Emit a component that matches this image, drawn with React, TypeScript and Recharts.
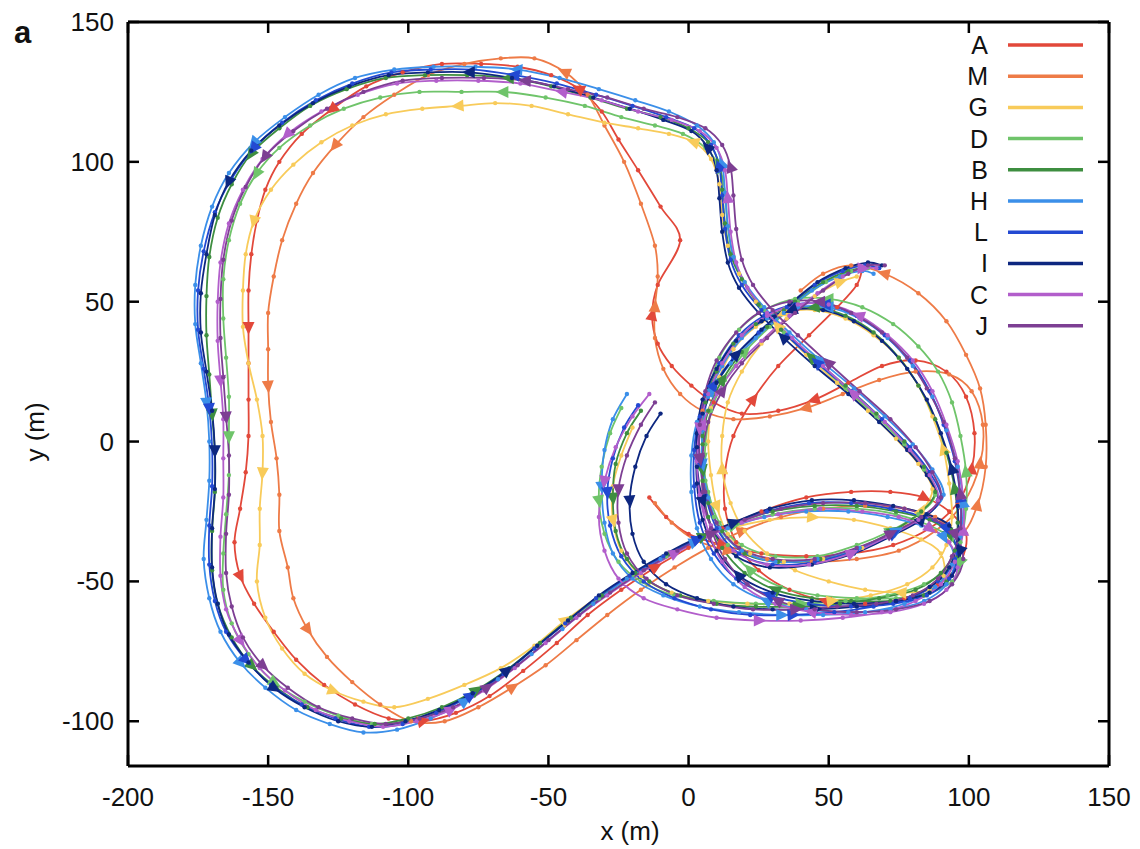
import React from "react";
import { LineChart, Line, XAxis, YAxis } from "recharts";

// flight tracks, [x, y] in metres, in flight order
const trackA = [
  [-14, -20], [-8, -27], [0, -33], [12, -37], [26, -40], [42, -41], [58, -40], [73, -37], [86, -31], [96, -22],
  [101, -10], [102, 3], [99, 16], [92, 25], [81, 29], [69, 27], [57, 21], [45, 15], [32, 11], [19, 10], [9, 14],
  [1, 20], [-6, 27], [-11, 35], [-13, 45], [-11, 56], [-3, 72], [-10, 84], [-18, 97], [-25, 108], [-31, 118],
  [-39, 126], [-49, 131], [-61, 134], [-74, 135], [-88, 135], [-102, 132], [-115, 127], [-127, 119], [-138, 110],
  [-146, 100], [-151, 90], [-154, 79], [-156, 67], [-157, 54], [-157, 41], [-157, 28], [-157, 15], [-157, 2],
  [-158, -11], [-160, -24], [-162, -36], [-160, -48], [-155, -58], [-148, -68], [-140, -78], [-130, -87],
  [-119, -94], [-107, -99], [-95, -100], [-83, -97], [-71, -91], [-59, -82], [-47, -72], [-36, -62], [-24, -53],
  [-12, -45], [0, -38], [12, -31], [26, -25], [42, -20], [58, -18], [72, -18], [84, -20], [93, -25], [99, -33],
  [97, -43], [89, -51], [77, -56], [63, -58], [49, -57], [36, -53], [25, -46], [17, -36], [13, -24], [13, -11],
  [16, 2], [23, 15], [32, 27], [43, 38], [53, 48], [60, 56], [62, 62],
];

const trackM = [
  [-12, -22], [-6, -29], [2, -35], [14, -39], [28, -42], [44, -43], [60, -42], [75, -39], [88, -32], [98, -22],
  [104, -8], [105, 6], [101, 18], [93, 24], [81, 25], [68, 22], [55, 17], [42, 12], [29, 9], [16, 8], [5, 11],
  [-3, 17], [-9, 26], [-12, 37], [-12, 48], [-11, 59], [-12, 70], [-17, 85], [-23, 100], [-30, 113], [-36, 124],
  [-44, 132], [-55, 137], [-67, 137], [-80, 135], [-93, 131], [-105, 124], [-116, 116], [-126, 106], [-134, 96],
  [-140, 85], [-145, 72], [-148, 59], [-150, 46], [-150, 33], [-150, 20], [-149, 7], [-147, -6], [-146, -19],
  [-146, -32], [-143, -45], [-141, -56], [-136, -67], [-129, -77], [-120, -86], [-110, -94], [-99, -100],
  [-87, -100], [-75, -95], [-63, -88], [-51, -80], [-40, -71], [-29, -62], [-17, -53], [-5, -45], [7, -38],
  [19, -32], [33, -27], [48, -24], [63, -23], [77, -24], [88, -27], [97, -33], [103, -23], [106, -9], [106, 6],
  [104, 19], [99, 31], [92, 43], [82, 53], [70, 60], [58, 63], [48, 60], [40, 54],
];

const trackG = [
  [-20, 5], [-24, -5], [-27, -16], [-27, -28], [-24, -39], [-17, -48], [-6, -54], [7, -57], [21, -58], [36, -58],
  [51, -57], [65, -55], [78, -51], [87, -45], [92, -37], [94, -27], [93, -15], [91, -3], [87, 9], [82, 20],
  [75, 30], [66, 38], [56, 44], [45, 47], [34, 46], [24, 41], [16, 33], [11, 23], [8, 12], [7, 0], [8, -12],
  [10, -23], [14, -33], [22, -40], [34, -43], [48, -42], [62, -38], [74, -32], [83, -25], [87, -17], [82, -8],
  [74, 1], [64, 11], [53, 21], [42, 31], [32, 41], [24, 50], [18, 60], [14, 70], [12, 81], [11, 92], [8, 101],
  [2, 107], [-7, 110], [-18, 112], [-30, 114], [-43, 117], [-56, 120], [-69, 121], [-82, 120], [-95, 119],
  [-108, 117], [-120, 113], [-131, 107], [-141, 99], [-149, 90], [-155, 79], [-158, 67], [-159, 54], [-159, 41],
  [-157, 28], [-154, 15], [-152, 2], [-152, -11], [-153, -24], [-153, -37], [-154, -50], [-151, -63], [-145, -74],
  [-137, -83], [-127, -89], [-116, -93], [-105, -95], [-93, -92], [-80, -87], [-67, -81], [-55, -73], [-44, -64],
  [-33, -56], [-21, -48], [-9, -41], [3, -35], [15, -31], [29, -28], [44, -27], [59, -28], [72, -31], [83, -35],
  [90, -40], [91, -48], [86, -53], [76, -54], [63, -53], [50, -50], [38, -46], [28, -40], [20, -32], [15, -22],
  [12, -10], [12, 2], [14, 14], [19, 25], [26, 35], [35, 44], [45, 52], [54, 57], [60, 59],
];

const trackD = [
  [-24, 12], [-28, 3], [-31, -9], [-32, -21], [-30, -33], [-25, -43], [-17, -50], [-5, -55], [9, -57], [24, -58],
  [40, -58], [56, -57], [71, -55], [84, -51], [93, -45], [97, -36], [99, -24], [99, -11], [97, 2], [94, 14],
  [89, 25], [82, 34], [73, 42], [62, 48], [50, 51], [38, 51], [27, 47], [18, 40], [11, 30], [7, 18], [5, 6],
  [5, -6], [7, -18], [11, -29], [19, -37], [31, -41], [46, -41], [60, -37], [72, -32], [82, -26], [88, -19],
  [84, -10], [77, -1], [67, 9], [56, 19], [45, 29], [34, 39], [26, 48], [20, 57], [16, 66], [14, 77], [13, 89],
  [11, 98], [6, 105], [-2, 110], [-12, 113], [-24, 116], [-37, 120], [-51, 123], [-66, 125], [-81, 125],
  [-96, 125], [-110, 123], [-123, 119], [-135, 113], [-146, 105], [-154, 96], [-160, 85], [-164, 72], [-166, 58],
  [-166, 44], [-165, 30], [-164, 16], [-164, 2], [-164, -12], [-165, -26], [-166, -40], [-166, -53], [-163, -65],
  [-157, -76], [-148, -86], [-137, -93], [-125, -98], [-113, -101], [-101, -100], [-89, -96], [-77, -90],
  [-65, -82], [-54, -73], [-43, -64], [-32, -56], [-20, -48], [-8, -41], [4, -35], [16, -30], [30, -26], [45, -24],
  [60, -24], [74, -26], [86, -30], [94, -35], [97, -43], [94, -50], [86, -54], [74, -56], [60, -56], [46, -55],
  [33, -52], [22, -46], [14, -37], [9, -27], [6, -14], [6, -1], [8, 11], [13, 22], [20, 32], [29, 41], [39, 50],
  [49, 57], [58, 61], [64, 62],
];

const trackB = [
  [-17, 11], [-22, 3], [-26, -8], [-27, -20], [-26, -32], [-22, -42], [-14, -50], [-3, -55], [10, -58], [24, -59],
  [39, -59], [54, -58], [68, -56], [81, -53], [90, -47], [95, -39], [96, -29], [95, -17], [92, -4], [88, 8],
  [82, 20], [75, 30], [66, 39], [56, 45], [45, 48], [34, 47], [24, 42], [16, 35], [10, 25], [6, 14], [5, 2],
  [5, -10], [7, -22], [12, -32], [20, -40], [32, -43], [47, -42], [61, -38], [73, -32], [83, -25], [88, -18],
  [84, -9], [77, 0], [67, 10], [56, 20], [44, 30], [33, 40], [25, 49], [19, 58], [15, 67], [13, 78], [12, 90],
  [11, 99], [7, 107], [0, 112], [-10, 116], [-22, 119], [-35, 123], [-49, 127], [-64, 130], [-79, 131],
  [-94, 131], [-108, 130], [-122, 126], [-135, 120], [-146, 112], [-156, 103], [-163, 92], [-168, 80], [-171, 66],
  [-172, 52], [-172, 38], [-171, 24], [-170, 10], [-169, -4], [-169, -18], [-170, -32], [-170, -46], [-168, -58],
  [-163, -70], [-156, -80], [-147, -88], [-136, -95], [-124, -99], [-112, -101], [-100, -99], [-88, -95],
  [-76, -89], [-64, -81], [-53, -72], [-42, -63], [-31, -55], [-19, -47], [-7, -40], [5, -34], [17, -29],
  [30, -25], [45, -23], [60, -23], [74, -25], [86, -28], [93, -33], [96, -41], [92, -50], [84, -55], [72, -57],
  [58, -57], [44, -56], [31, -53], [20, -47], [12, -38], [7, -27], [5, -14], [5, -1], [7, 11], [12, 22],
  [19, 32], [28, 41], [38, 50], [48, 57], [57, 61], [63, 62],
];

const trackH = [
  [-22, 17], [-27, 8], [-30, -3], [-31, -16], [-30, -29], [-27, -40], [-20, -49], [-9, -55], [4, -59], [18, -61],
  [33, -62], [48, -62], [63, -61], [77, -58], [88, -52], [94, -44], [97, -34], [98, -22], [96, -9], [92, 4],
  [87, 16], [80, 27], [71, 37], [61, 44], [50, 48], [39, 48], [28, 44], [19, 37], [12, 27], [7, 16], [5, 4],
  [5, -8], [7, -20], [11, -31], [19, -39], [31, -43], [46, -42], [61, -38], [74, -32], [85, -26], [91, -19],
  [87, -10], [80, -1], [70, 9], [59, 19], [47, 29], [36, 39], [27, 48], [20, 57], [16, 66], [14, 77], [13, 89],
  [12, 99], [9, 107], [3, 113], [-7, 118], [-19, 122], [-32, 126], [-46, 130], [-61, 133], [-76, 134], [-91, 134],
  [-105, 133], [-119, 130], [-132, 124], [-144, 116], [-155, 107], [-164, 96], [-170, 84], [-174, 70], [-176, 56],
  [-176, 42], [-174, 28], [-172, 14], [-171, 0], [-171, -14], [-172, -28], [-173, -42], [-171, -56], [-167, -68],
  [-160, -79], [-151, -88], [-140, -96], [-128, -101], [-116, -104], [-104, -103], [-92, -99], [-80, -93],
  [-68, -85], [-56, -76], [-45, -67], [-34, -58], [-22, -49], [-10, -42], [2, -36], [14, -31], [27, -27],
  [42, -25], [57, -25], [71, -27], [83, -30], [91, -34], [95, -42], [92, -51], [84, -57], [72, -60], [57, -61],
  [42, -60], [28, -57], [16, -51], [8, -42], [3, -31], [1, -18], [1, -5], [3, 7], [8, 18], [15, 28], [24, 37],
  [34, 46], [44, 54], [54, 59], [62, 61], [66, 60],
];

const trackL = [
  [-18, 13], [-23, 5], [-27, -6], [-29, -18], [-28, -30], [-24, -41], [-16, -50], [-5, -56], [8, -60], [22, -62],
  [37, -62], [52, -61], [66, -59], [79, -56], [89, -50], [95, -42], [97, -32], [97, -20], [95, -7], [91, 6],
  [86, 18], [79, 29], [70, 38], [60, 45], [49, 49], [38, 49], [27, 45], [18, 38], [11, 28], [6, 17], [4, 5],
  [4, -7], [6, -19], [10, -31], [18, -40], [30, -44], [45, -43], [60, -39], [73, -33], [84, -27], [90, -20],
  [86, -11], [79, -2], [69, 8], [58, 18], [46, 28], [35, 38], [26, 47], [19, 56], [15, 65], [13, 76], [12, 88],
  [11, 98], [8, 106], [2, 112], [-8, 116], [-20, 120], [-33, 124], [-47, 128], [-62, 131], [-77, 133], [-92, 133],
  [-106, 132], [-120, 128], [-133, 122], [-145, 114], [-155, 105], [-163, 94], [-169, 82], [-173, 68], [-175, 54],
  [-175, 40], [-173, 26], [-171, 12], [-170, -2], [-170, -16], [-171, -30], [-171, -44], [-169, -57], [-165, -68],
  [-158, -78], [-149, -87], [-138, -94], [-126, -99], [-114, -102], [-102, -101], [-90, -97], [-78, -91],
  [-66, -83], [-55, -74], [-44, -65], [-33, -56], [-21, -48], [-9, -41], [3, -35], [15, -30], [28, -25],
  [43, -22], [58, -22], [72, -24], [84, -27], [92, -31], [96, -40], [93, -49], [85, -55], [73, -58], [58, -59],
  [43, -58], [29, -55], [17, -49], [9, -40], [4, -29], [2, -16], [2, -3], [4, 9], [9, 20], [16, 30], [25, 39],
  [35, 48], [45, 56], [55, 61], [63, 63], [68, 62],
];

const trackI = [
  [-10, 10], [-15, 2], [-19, -9], [-21, -21], [-20, -33], [-16, -43], [-8, -51], [3, -56], [16, -59], [30, -60],
  [45, -60], [60, -59], [74, -57], [86, -52], [93, -45], [96, -35], [96, -23], [94, -10], [90, 3], [85, 15],
  [78, 26], [69, 36], [59, 43], [48, 47], [37, 47], [26, 43], [17, 36], [10, 26], [5, 15], [3, 3], [3, -9],
  [5, -21], [9, -32], [17, -41], [29, -45], [44, -44], [59, -40], [72, -34], [83, -28], [89, -21], [85, -12],
  [78, -3], [68, 7], [57, 17], [45, 27], [34, 37], [25, 46], [18, 55], [14, 64], [12, 75], [11, 87], [10, 97],
  [7, 105], [1, 111], [-9, 115], [-21, 119], [-34, 123], [-48, 127], [-63, 130], [-78, 132], [-93, 132],
  [-107, 131], [-121, 127], [-134, 121], [-146, 113], [-156, 104], [-164, 93], [-169, 81], [-172, 67], [-174, 53],
  [-174, 39], [-172, 25], [-170, 11], [-169, -3], [-169, -17], [-170, -31], [-170, -45], [-168, -58], [-164, -69],
  [-157, -79], [-148, -88], [-137, -95], [-125, -100], [-113, -102], [-101, -100], [-89, -96], [-77, -90],
  [-65, -82], [-54, -73], [-43, -64], [-32, -55], [-20, -47], [-8, -40], [4, -34], [16, -29], [29, -24],
  [44, -21], [59, -21], [73, -23], [85, -26], [93, -30], [97, -39], [94, -48], [86, -54], [74, -57], [59, -58],
  [44, -57], [30, -54], [18, -48], [10, -39], [5, -28], [3, -15], [3, -2], [5, 10], [10, 21], [17, 31], [26, 40],
  [36, 49], [46, 57], [56, 62], [64, 64], [69, 63],
];

const trackC = [
  [-14, 17], [-20, 9], [-26, -2], [-30, -14], [-32, -27], [-30, -39], [-25, -49], [-16, -56], [-4, -60], [10, -63],
  [25, -64], [40, -64], [55, -63], [69, -61], [81, -57], [90, -51], [95, -43], [98, -32], [98, -20], [96, -7],
  [92, 6], [87, 18], [80, 29], [71, 38], [61, 45], [50, 49], [39, 49], [28, 45], [19, 38], [12, 28], [7, 17],
  [4, 5], [3, -7], [4, -19], [8, -30], [16, -39], [28, -44], [43, -44], [58, -40], [71, -34], [82, -28], [89, -21],
  [86, -12], [79, -3], [70, 7], [59, 17], [48, 27], [37, 37], [28, 46], [21, 55], [17, 64], [15, 75], [14, 87],
  [13, 97], [10, 105], [4, 111], [-6, 115], [-18, 118], [-31, 122], [-45, 125], [-60, 128], [-75, 129], [-90, 129],
  [-104, 128], [-118, 124], [-131, 118], [-143, 110], [-152, 101], [-159, 90], [-164, 78], [-167, 64], [-168, 50],
  [-168, 36], [-167, 22], [-166, 8], [-166, -6], [-166, -20], [-167, -34], [-167, -48], [-165, -60], [-160, -71],
  [-153, -81], [-144, -89], [-133, -96], [-121, -100], [-109, -102], [-97, -100], [-85, -96], [-73, -89],
  [-62, -81], [-51, -72], [-40, -63], [-29, -55], [-17, -47], [-5, -40], [7, -34], [19, -29], [32, -26],
  [47, -24], [62, -25], [75, -27], [86, -31], [93, -36], [96, -45], [92, -53], [84, -58], [72, -61], [58, -62],
  [44, -61], [31, -58], [20, -52], [12, -43], [7, -32], [4, -19], [3, -6], [5, 6], [10, 17], [17, 27], [26, 36],
  [36, 45], [46, 53], [55, 59], [62, 62], [67, 62],
];

const trackJ = [
  [-12, 14], [-17, 6], [-22, -5], [-25, -17], [-25, -29], [-22, -40], [-15, -49], [-4, -55], [9, -58], [23, -60],
  [38, -60], [53, -59], [67, -58], [80, -55], [89, -49], [94, -41], [97, -31], [97, -19], [95, -6], [91, 7],
  [85, 19], [78, 30], [69, 39], [58, 46], [47, 50], [36, 50], [25, 46], [17, 39], [10, 29], [6, 18], [4, 6],
  [4, -6], [6, -18], [10, -29], [18, -38], [30, -42], [45, -42], [60, -38], [72, -33], [83, -27], [90, -20],
  [87, -11], [81, -2], [72, 8], [61, 18], [50, 28], [39, 38], [30, 47], [23, 56], [19, 65], [17, 76], [16, 88],
  [15, 98], [12, 106], [6, 112], [-4, 116], [-16, 119], [-29, 123], [-43, 126], [-58, 129], [-73, 130], [-88, 130],
  [-102, 129], [-116, 125], [-129, 119], [-141, 111], [-151, 102], [-158, 91], [-163, 79], [-166, 65], [-167, 51],
  [-167, 37], [-166, 23], [-165, 9], [-164, -5], [-164, -19], [-165, -33], [-165, -47], [-163, -59], [-159, -70],
  [-152, -80], [-143, -88], [-132, -95], [-120, -99], [-108, -101], [-96, -99], [-84, -95], [-72, -88],
  [-61, -80], [-50, -71], [-39, -62], [-28, -54], [-16, -46], [-4, -39], [8, -33], [20, -28], [33, -24],
  [48, -22], [63, -22], [77, -24], [88, -28], [95, -33], [98, -42], [94, -51], [86, -57], [74, -60], [60, -61],
  [45, -60], [32, -57], [21, -51], [13, -42], [8, -31], [5, -18], [5, -5], [7, 7], [12, 18], [19, 28], [28, 37],
  [38, 46], [48, 54], [57, 60], [64, 63], [70, 63],
];

const birdNames = ["A", "M", "G", "D", "B", "H", "L", "I", "C", "J"];
const birdTracks = [trackA, trackM, trackG, trackD, trackB, trackH, trackL, trackI, trackC, trackJ];
const birdColors = [
  "#e2483a", "#ee7b47", "#f8cb5a", "#6fc46a", "#3e8e40",
  "#3b8fe9", "#2349d2", "#0d2780", "#b25ecb", "#7d3f93",
];

const xTicks = [-200, -150, -100, -50, 0, 50, 100, 150];
const yTicks = [-100, -50, 0, 50, 100, 150];

// plot box in page pixels
const W = 1140;
const H = 849;
const PL = 128;
const PR = 1109;
const PT = 22;
const PB = 766;
const X_DOMAIN = [-200, 150];
const Y_DOMAIN = [-116, 150];
const SX = (PR - PL) / (X_DOMAIN[1] - X_DOMAIN[0]);
const SY = (PB - PT) / (Y_DOMAIN[1] - Y_DOMAIN[0]);

const FONT = "'Liberation Sans', Arial, Helvetica, sans-serif";

// catmull-rom through the points, keeps dots on the line
const smoothCurve = (context: any) => {
  let pts: number[][] = [];
  return {
    areaStart() {},
    areaEnd() {},
    lineStart() {
      pts = [];
    },
    point(x: number, y: number) {
      pts.push([+x, +y]);
    },
    lineEnd() {
      if (!pts.length) return;
      context.moveTo(pts[0][0], pts[0][1]);
      for (let i = 0; i < pts.length - 1; i++) {
        const p0 = pts[i - 1] || pts[i];
        const p1 = pts[i];
        const p2 = pts[i + 1];
        const p3 = pts[i + 2] || p2;
        context.bezierCurveTo(
          p1[0] + (p2[0] - p0[0]) / 6,
          p1[1] + (p2[1] - p0[1]) / 6,
          p2[0] - (p3[0] - p1[0]) / 6,
          p2[1] - (p3[1] - p1[1]) / 6,
          p2[0],
          p2[1]
        );
      }
    },
  };
};

const makeDot = (track: number[][], color: string) => (props: any) => {
  const { cx, cy, index } = props;
  if (cx == null || cy == null) return <g key={`d${index}`} />;
  if (index % 7 === 3 && index < track.length - 1) {
    const [x1, y1] = track[index];
    const [x2, y2] = track[index + 1];
    const a = Math.atan2(-(y2 - y1) * SY, (x2 - x1) * SX);
    const len = 8;
    const hw = 6;
    const c = Math.cos(a);
    const s = Math.sin(a);
    const tip = [cx + c * len, cy + s * len];
    const b1 = [cx - c * len * 0.6 - s * hw, cy - s * len * 0.6 + c * hw];
    const b2 = [cx - c * len * 0.6 + s * hw, cy - s * len * 0.6 - c * hw];
    return (
      <polygon
        key={`d${index}`}
        points={`${tip[0]},${tip[1]} ${b1[0]},${b1[1]} ${b2[0]},${b2[1]}`}
        fill={color}
      />
    );
  }
  return <circle key={`d${index}`} cx={cx} cy={cy} r={2.2} fill={color} />;
};

const BottomTick = (props: any) => {
  const { x, payload } = props;
  return (
    <g>
      <line x1={x} x2={x} y1={PB} y2={PB - 11} stroke="#000" strokeWidth={2.5} />
      <text x={x} y={806} textAnchor="middle" fontSize={26} fontFamily={FONT} fill="#111">
        {payload.value}
      </text>
    </g>
  );
};

const TopTick = (props: any) => {
  const { x } = props;
  return <line x1={x} x2={x} y1={PT} y2={PT + 11} stroke="#000" strokeWidth={2.5} />;
};

const LeftTick = (props: any) => {
  const { y, payload } = props;
  return (
    <g>
      <line x1={PL} x2={PL + 11} y1={y} y2={y} stroke="#000" strokeWidth={2.5} />
      <text x={114} y={y + 9} textAnchor="end" fontSize={26} fontFamily={FONT} fill="#111">
        {payload.value}
      </text>
    </g>
  );
};

const RightTick = (props: any) => {
  const { y } = props;
  return <line x1={PR} x2={PR - 11} y1={y} y2={y} stroke="#000" strokeWidth={2.5} />;
};

export default function App() {
  const series = birdNames.map((name, i) => ({
    name,
    color: birdColors[i],
    track: birdTracks[i],
    data: birdTracks[i].map(([x, y]) => ({ x, y })),
  }));

  return (
    <div style={{ position: "absolute", left: 0, top: 0, width: W, height: H, background: "#fff" }}>
      <LineChart
        width={W}
        height={H}
        margin={{ top: PT - 2, right: W - PR - 2, bottom: H - PB - 30, left: PL - 60 }}
      >
        <XAxis
          xAxisId="bottom"
          dataKey="x"
          type="number"
          domain={X_DOMAIN}
          ticks={xTicks}
          interval={0}
          allowDataOverflow
          height={30}
          axisLine={{ stroke: "#000", strokeWidth: 3 }}
          tickLine={false}
          tick={<BottomTick />}
        />
        <XAxis
          xAxisId="top"
          orientation="top"
          dataKey="x"
          type="number"
          domain={X_DOMAIN}
          ticks={xTicks}
          interval={0}
          allowDataOverflow
          height={2}
          axisLine={{ stroke: "#000", strokeWidth: 3 }}
          tickLine={false}
          tick={<TopTick />}
        />
        <YAxis
          yAxisId="left"
          dataKey="y"
          type="number"
          domain={Y_DOMAIN}
          ticks={yTicks}
          interval={0}
          allowDataOverflow
          width={60}
          axisLine={{ stroke: "#000", strokeWidth: 3 }}
          tickLine={false}
          tick={<LeftTick />}
        />
        <YAxis
          yAxisId="right"
          orientation="right"
          dataKey="y"
          type="number"
          domain={Y_DOMAIN}
          ticks={yTicks}
          interval={0}
          allowDataOverflow
          width={2}
          axisLine={{ stroke: "#000", strokeWidth: 3 }}
          tickLine={false}
          tick={<RightTick />}
        />
        {series.map((s) => (
          <Line
            key={s.name}
            xAxisId="bottom"
            yAxisId="left"
            name={s.name}
            data={s.data}
            dataKey="y"
            type={smoothCurve as any}
            stroke={s.color}
            strokeWidth={1.8}
            dot={makeDot(s.track, s.color)}
            activeDot={false}
            isAnimationActive={false}
          />
        ))}
      </LineChart>
      <svg
        width={W}
        height={H}
        style={{ position: "absolute", left: 0, top: 0, pointerEvents: "none" }}
      >
        <text x={14} y={43} fontSize={31} fontWeight={700} fontFamily="'Liberation Sans', Arial, sans-serif" fill="#111">
          a
        </text>
        <text x={630} y={840} textAnchor="middle" fontSize={26} fontFamily={FONT} fill="#111">
          x (m)
        </text>
        <text
          transform="translate(44,432) rotate(-90)"
          textAnchor="middle"
          fontSize={26}
          fontFamily={FONT}
          fill="#111"
        >
          y (m)
        </text>
        {series.map((s, i) => {
          const y = 45 + i * 31.2;
          return (
            <g key={s.name}>
              <text x={988} y={y + 9} textAnchor="end" fontSize={25} fontFamily={FONT} fill="#111">
                {s.name}
              </text>
              <line x1={1008} x2={1083} y1={y} y2={y} stroke={s.color} strokeWidth={3.5} />
            </g>
          );
        })}
      </svg>
    </div>
  );
}
